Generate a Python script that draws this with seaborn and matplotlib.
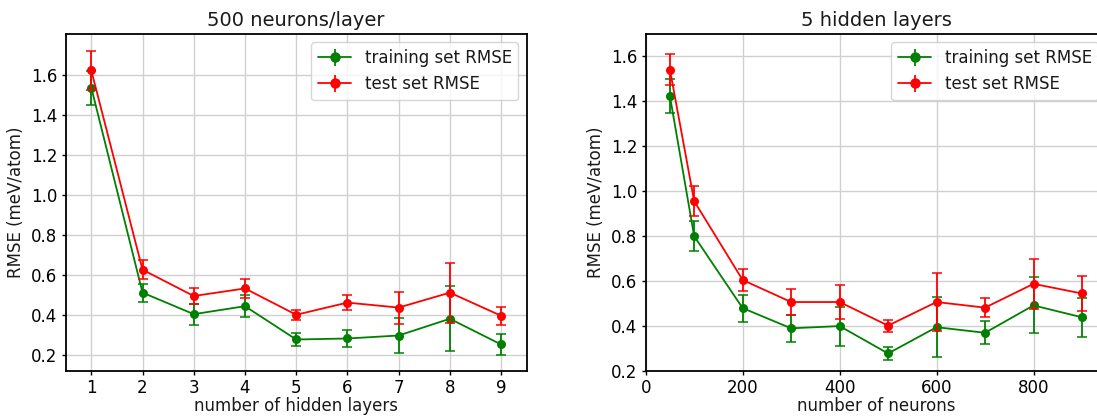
import numpy as np
import pandas as pd
import matplotlib
matplotlib.use("Agg")
import matplotlib.pyplot as plt
import seaborn as sns

# ---- data: left panel (500 neurons/layer) ----
layers = [1, 2, 3, 4, 5, 6, 7, 8, 9]
layers_train = [1.539, 0.511, 0.403, 0.443, 0.276, 0.281, 0.296, 0.380, 0.251]
layers_train_err = [0.085, 0.045, 0.052, 0.055, 0.031, 0.045, 0.089, 0.162, 0.054]
layers_test = [1.625, 0.626, 0.494, 0.532, 0.400, 0.461, 0.436, 0.511, 0.395]
layers_test_err = [0.096, 0.047, 0.040, 0.049, 0.026, 0.036, 0.080, 0.150, 0.044]

# ---- data: right panel (5 hidden layers) ----
neurons = [50, 100, 200, 300, 400, 500, 600, 700, 800, 900]
neurons_train = [1.423, 0.800, 0.480, 0.390, 0.400, 0.278, 0.395, 0.370, 0.492, 0.439]
neurons_train_err = [0.076, 0.066, 0.060, 0.060, 0.087, 0.031, 0.133, 0.052, 0.125, 0.087]
neurons_test = [1.541, 0.956, 0.605, 0.507, 0.507, 0.402, 0.507, 0.482, 0.588, 0.545]
neurons_test_err = [0.070, 0.066, 0.050, 0.057, 0.074, 0.027, 0.127, 0.041, 0.111, 0.076]

series_labels = ["training set RMSE", "test set RMSE"]
series_colors = ["green", "red"]
ytick_vals = [0.2, 0.4, 0.6, 0.8, 1.0, 1.2, 1.4, 1.6]
ytick_labels = ["0.2", "0.4", "0.6", "0.8", "1.0", "1.2", "1.4", "1.6"]
neuron_ticks = [0, 200, 400, 600, 800]
neuron_tick_labels = ["0", "200", "400", "600", "800"]

sns.set_theme(style="whitegrid", rc={
    "axes.edgecolor": "black",
    "axes.linewidth": 1.3,
    "grid.color": "#d0d0d0",
    "grid.linewidth": 1.0,
    "xtick.bottom": True,
    "ytick.left": True,
    "xtick.major.size": 3,
    "ytick.major.size": 3,
    "xtick.major.width": 1.0,
    "ytick.major.width": 1.0,
    "xtick.color": "black",
    "ytick.color": "black",
    "text.color": "#1a1a1a",
    "axes.labelcolor": "#1a1a1a",
})
plt.rcParams["font.family"] = ["DejaVu Sans"]

W, H = 1097, 416
fig = plt.figure(figsize=(W / 100, H / 100), dpi=100)
ax1 = fig.add_axes([65.7 / W, 1 - 371 / H, 461 / W, 337 / H])
ax2 = fig.add_axes([645.7 / W, 1 - 371 / H, 461 / W, 337 / H])


def draw(ax, x, ys, errs):
    for y, e, c in zip(ys, errs, series_colors):
        df = pd.DataFrame({"x": x, "y": y})
        sns.lineplot(data=df, x="x", y="y", ax=ax, color=c, marker="o",
                     markersize=6.5, markeredgewidth=0, linewidth=1.3,
                     legend=False, zorder=3)
        ax.errorbar(x, y, yerr=e, fmt="none", ecolor=c, elinewidth=1.3,
                    capsize=3.5, capthick=1.1, zorder=3)


def finish(ax, title, xlabel):
    leg_handles = []
    for c in series_colors:
        h = ax.errorbar([], [], yerr=[], fmt="-o", color=c, markersize=6.5,
                        linewidth=1.3, elinewidth=1.3, capsize=3.5, capthick=1.1)
        leg_handles.append(h)
    ax.legend(leg_handles, series_labels, loc="upper right", fontsize=12,
              frameon=True, framealpha=0.8, edgecolor="#cccccc", fancybox=True)
    ax.set_title(title, fontsize=14, pad=6)
    ax.set_xlabel(xlabel, fontsize=12, labelpad=0)
    ax.set_ylabel("RMSE (meV/atom)", fontsize=12, labelpad=4)
    ax.tick_params(labelsize=12, pad=3)
    for s in ax.spines.values():
        s.set_color("black")


draw(ax1, layers, [layers_train, layers_test], [layers_train_err, layers_test_err])
ax1.set_xlim(0.5, 9.5)
ax1.set_ylim(0.118, 1.808)
ax1.set_xticks(layers)
ax1.set_yticks(ytick_vals)
ax1.set_yticklabels(ytick_labels)
finish(ax1, "500 neurons/layer", "number of hidden layers")

draw(ax2, neurons, [neurons_train, neurons_test], [neurons_train_err, neurons_test_err])
ax2.set_xlim(0, 951)
ax2.set_ylim(0.2, 1.7)
ax2.set_xticks(neuron_ticks)
ax2.set_xticklabels(neuron_tick_labels)
ax2.set_yticks(ytick_vals)
ax2.set_yticklabels(ytick_labels)
finish(ax2, "5 hidden layers", "number of neurons")

fig.savefig("out.png", dpi=100)
